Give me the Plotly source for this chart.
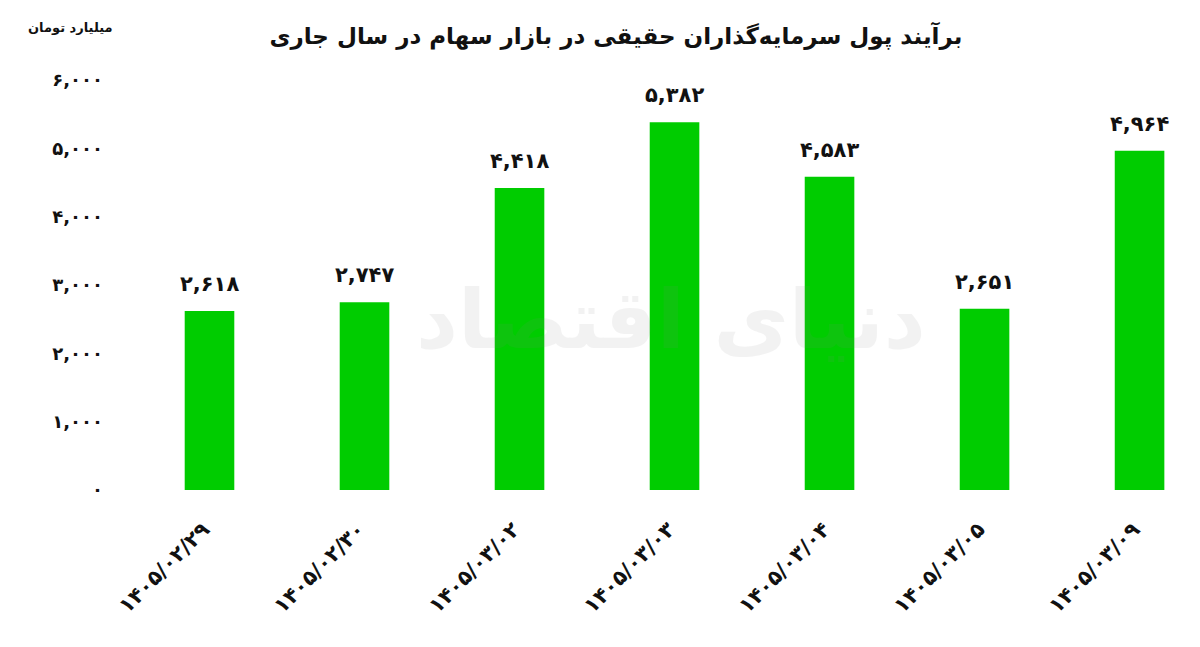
import plotly.graph_objects as go

dates = ["1405/02/29", "1405/02/30", "1405/03/02", "1405/03/03", "1405/03/04", "1405/03/05", "1405/03/09"]
values = [2618, 2747, 4418, 5382, 4583, 2651, 4964]
y_ticks = [0, 1000, 2000, 3000, 4000, 5000, 6000]

title_text = "برآیند پول سرمایه‌گذاران حقیقی در بازار سهام در سال جاری"
unit_text = "میلیارد تومان"
watermark = "دنیای اقتصاد"

fa = str.maketrans("0123456789", "۰۱۲۳۴۵۶۷۸۹")
def to_fa(s):
    return str(s).translate(fa)

cats = [to_fa(d) for d in dates]
labels = [to_fa(f"{v:,}") for v in values]
tick_text = [to_fa(f"{v:,}") for v in y_ticks]

FONT = "DejaVu Sans"
INK = "#111111"

fig = go.Figure(go.Bar(
    x=cats, y=values,
    marker=dict(color="#00CC00", line=dict(width=0)),
    width=0.32,
    hoverinfo="x+y",
))

annotations = [
    dict(text=unit_text, xref="paper", yref="paper", x=-0.058, y=1.127,
         xanchor="center", yanchor="middle", showarrow=False,
         font=dict(family=FONT, size=13, color=INK, weight="bold")),
    dict(text=watermark, xref="paper", yref="paper", x=0.505, y=0.415,
         xanchor="center", yanchor="middle", showarrow=False, opacity=0.10,
         font=dict(family=FONT, size=82, color="#888888", weight="bold")),
]
for c, v, t in zip(cats, values, labels):
    annotations.append(dict(x=c, y=v, xref="x", yref="y", text=t, showarrow=False,
                            xanchor="center", yanchor="middle", yshift=27,
                            font=dict(family=FONT, size=21, color=INK, weight="bold")))

fig.update_layout(
    width=1192, height=639,
    margin=dict(l=124, r=0, t=72, b=157),
    paper_bgcolor="white", plot_bgcolor="white",
    showlegend=False,
    font=dict(family=FONT, color=INK),
    title=dict(text=title_text, x=0.51, xanchor="center", y=0.956, yanchor="middle",
               font=dict(family=FONT, size=23, color=INK, weight="bold")),
    xaxis=dict(range=[-0.5, 6.39], showgrid=False, showline=False, zeroline=False,
               tickangle=-45, ticks="", ticklabelstandoff=22, ticklabelshift=-6,
               tickfont=dict(family=FONT, size=21, color=INK, weight="bold")),
    yaxis=dict(range=[0, 6000], showgrid=False, showline=False, zeroline=False,
               tickvals=y_ticks, ticktext=tick_text, ticks="", ticklabelstandoff=28,
               tickfont=dict(family=FONT, size=18, color=INK, weight="bold")),
    annotations=annotations,
)

fig.write_html("out.html")
